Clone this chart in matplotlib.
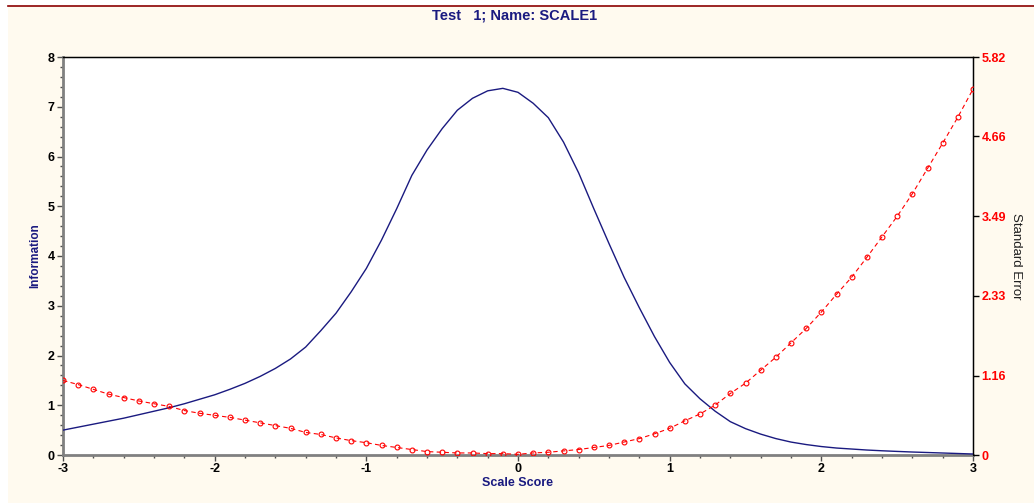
import matplotlib
matplotlib.use("Agg")
import matplotlib.pyplot as plt
from matplotlib.ticker import MultipleLocator, FixedLocator

plt.rcParams['font.family'] = ['Liberation Sans', 'DejaVu Sans']

theta = [round(-3 + 0.1 * i, 1) for i in range(61)]

information = [
    0.50, 0.56, 0.62, 0.68, 0.74, 0.81, 0.88, 0.95, 1.03, 1.12,
    1.21, 1.32, 1.44, 1.58, 1.74, 1.93, 2.17, 2.50, 2.85, 3.28,
    3.75, 4.32, 4.95, 5.62, 6.13, 6.56, 6.93, 7.17, 7.32, 7.37,
    7.29, 7.07, 6.78, 6.29, 5.67, 4.95, 4.25, 3.57, 2.96, 2.38,
    1.86, 1.43, 1.13, 0.88, 0.67, 0.53, 0.42, 0.33, 0.26, 0.21,
    0.17, 0.14, 0.12, 0.10, 0.085, 0.072, 0.06, 0.05, 0.04, 0.03,
    0.02,
]

std_error = [
    1.09, 1.03, 0.96, 0.89, 0.84, 0.79, 0.75, 0.71, 0.65, 0.61,
    0.58, 0.55, 0.51, 0.47, 0.43, 0.39, 0.33, 0.30, 0.25, 0.21,
    0.18, 0.14, 0.11, 0.08, 0.05, 0.04, 0.03, 0.03, 0.02, 0.02,
    0.01, 0.03, 0.04, 0.06, 0.08, 0.11, 0.14, 0.19, 0.24, 0.31,
    0.39, 0.50, 0.60, 0.73, 0.90, 1.05, 1.24, 1.43, 1.64, 1.85,
    2.09, 2.35, 2.60, 2.89, 3.19, 3.49, 3.82, 4.19, 4.56, 4.94,
    5.35,
]

x_ticks = [-3, -2, -1, 0, 1, 2, 3]
left_ticks = [0, 1, 2, 3, 4, 5, 6, 7, 8]
right_ticks = [0, 1.16, 2.33, 3.49, 4.66, 5.82]
right_labels = ["0", "1.16", "2.33", "3.49", "4.66", "5.82"]

title = "Test   1; Name: SCALE1"
navy = "#1a1a80"
cream = "#FFFAEF"

fig = plt.figure(figsize=(10.34, 5.03), dpi=100)
fig.patch.set_facecolor("white")
fig.patches.append(matplotlib.patches.Rectangle((8/1034, 0), 1 - 8/1034, (503 - 6)/503,
                                                transform=fig.transFigure, facecolor=cream,
                                                edgecolor="none", zorder=-10))
fig.add_artist(matplotlib.lines.Line2D([8/1034, 1], [(503 - 6)/503] * 2,
                                       transform=fig.transFigure, color="#8B0000", lw=1.2))

ax = fig.add_axes([63/1034, 48/503, 910/1034, 398/503])
ax.set_facecolor("white")
ax.plot(theta, information, color=navy, lw=1.0, zorder=3)
ax.set_xlim(-3, 3)
ax.set_ylim(0, 8)
ax.xaxis.set_major_locator(FixedLocator(x_ticks))
ax.xaxis.set_minor_locator(MultipleLocator(0.2))
ax.yaxis.set_major_locator(FixedLocator(left_ticks))
ax.yaxis.set_minor_locator(MultipleLocator(0.2))
ax.set_xticklabels([str(t) for t in x_ticks])
for lbl in ax.get_xticklabels() + ax.get_yticklabels():
    lbl.set_fontweight("bold")
    lbl.set_fontsize(9)
ax.tick_params(axis="both", which="major", direction="out", length=4, width=1, color="#505050", pad=2)
ax.tick_params(axis="both", which="minor", direction="out", length=2.5, width=1, color="#505050")
for s in ["left", "bottom"]:
    ax.spines[s].set_color("#808080")
    ax.spines[s].set_linewidth(2)
for s in ["top", "right"]:
    ax.spines[s].set_color("black")
    ax.spines[s].set_linewidth(1)
ax.set_xlabel("Scale Score", color=navy, fontweight="bold", fontsize=9, va="center")
ax.xaxis.set_label_coords(0.5, -0.0704)
ax.set_ylabel("Information", color=navy, fontweight="bold", fontsize=8.5, va="center")
ax.yaxis.set_label_coords(-0.0308, 0.5)

ax2 = ax.twinx()
ax2.plot(theta, std_error, color="red", lw=0.8, ls=(0, (4, 3)), marker="o", markersize=3.5,
         markerfacecolor="none", markeredgecolor="red", markeredgewidth=0.8, zorder=4)
ax2.set_ylim(0, 5.82)
ax2.yaxis.set_major_locator(FixedLocator(right_ticks))
ax2.set_yticklabels(right_labels)
for lbl in ax2.get_yticklabels():
    lbl.set_color("red")
    lbl.set_fontweight("bold")
    lbl.set_fontsize(9)
ax2.tick_params(axis="y", which="major", direction="out", length=4, width=1, color="black", pad=2)
ax2.spines["right"].set_color("black")
ax2.spines["left"].set_visible(False)
ax2.spines["bottom"].set_visible(False)
ax2.set_ylabel("Standard Error", color="#202020", fontsize=9.5, rotation=-90, va="center")
ax2.yaxis.set_label_coords(1.0473, 0.5)

fig.text(515/1034, 1 - 16/503, title, ha="center", va="center", color=navy,
         fontweight="bold", fontsize=10.5)

fig.savefig("out.png", dpi=100, facecolor=fig.get_facecolor())
